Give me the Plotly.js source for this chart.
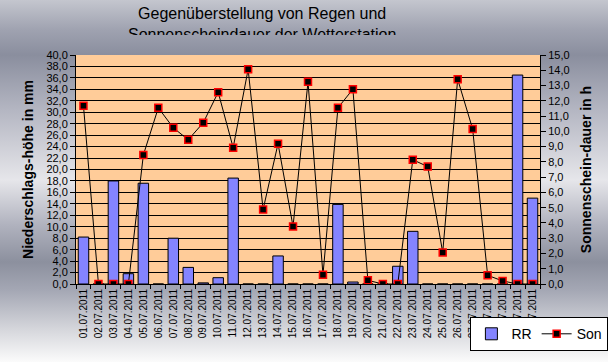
<!DOCTYPE html>
<html><head><meta charset="utf-8">
<script src="https://cdn.plot.ly/plotly-3.0.1.min.js"></script>
<style>
html,body{margin:0;padding:0;}
#chart{width:608px;height:362px;
background:linear-gradient(to bottom,#c4c6ce 0px,#9fa2b0 30px,#8a8e9e 55px,#b4b6c2 110px,#e6e6ea 180px,#b0b2be 225px,#8c909e 262px,#a4a7b4 290px,#d6d7dc 330px,#fbfbfb 362px);}
</style>
</head><body>
<div id="chart"></div>
<script>
const dates = ["01.07.2011","02.07.2011","03.07.2011","04.07.2011","05.07.2011","06.07.2011","07.07.2011","08.07.2011","09.07.2011","10.07.2011","11.07.2011","12.07.2011","13.07.2011","14.07.2011","15.07.2011","16.07.2011","17.07.2011","18.07.2011","19.07.2011","20.07.2011","21.07.2011","22.07.2011","23.07.2011","24.07.2011","25.07.2011","26.07.2011","27.07.2011","28.07.2011","29.07.2011","30.07.2011","31.07.2011"];
const rr = [8.2,0,18.0,1.8,17.6,0,8.0,2.9,0.2,1.1,18.5,0,0,4.9,0,0,0,13.9,0.35,0,0,3.1,9.2,0,0,0,0,0,0,36.5,15.0];
const son = [11.67,0,0,0,8.45,11.54,10.23,9.45,10.56,12.56,8.93,14.06,4.88,9.19,3.77,13.24,0.61,11.54,12.76,0.24,0,0,8.14,7.69,2.07,13.41,10.15,0.57,0.2,0,0];
const seriesNames = ["RR","Son"];
const titleText = "Gegenüberstellung von Regen und<br>Sonnenscheindauer der Wetterstation";
const yTitle = "Niederschlags-höhe in mm";
const y2Title = "Sonnenschein-dauer in h";

const traces = [
 {type:'bar', name:seriesNames[0], x:dates, y:rr, yaxis:'y',
  marker:{color:'#8484ff', line:{color:'#000000',width:1}}},
 {type:'scatter', mode:'lines+markers', name:seriesNames[1], x:dates, y:son, yaxis:'y2',
  line:{color:'#000000',width:1},
  marker:{symbol:'square', size:7, color:'#000000', line:{color:'#ff0000',width:1.5}}}
];
const layout = {
 width:608, height:362,
 paper_bgcolor:'rgba(0,0,0,0)', plot_bgcolor:'#ffcc99',
 margin:{l:76,r:68,t:55,b:78, autoexpand:false},
 separators:',.',
 font:{family:'Liberation Sans, Arial, sans-serif', size:12, color:'#000'},
 showlegend:true,
 bargap:0.3,
 legend:{orientation:'h', x:0.85, xanchor:'left', y:-0.145, yanchor:'top',
   bgcolor:'#ffffff', bordercolor:'#000000', borderwidth:1, font:{size:14},
   itemwidth:30, tracegroupgap:0},
 xaxis:{type:'category', range:[-0.5, dates.length-0.5], tickson:'boundaries', ticks:'outside', ticklen:4, tickcolor:'#000',
   tickangle:-90, tickfont:{size:10}, showline:true, linecolor:'#000', showgrid:false, automargin:false},
 yaxis:{range:[0,40], dtick:2, tickformat:'.1f', ticks:'outside', ticklen:5, tickcolor:'#000',
   showline:true, linecolor:'#000', showgrid:true, gridcolor:'#000', gridwidth:1, zeroline:false,
   tickfont:{size:11}, automargin:false,
   title:{text:yTitle, font:{size:14, weight:'bold'}, standoff:9}},
 yaxis2:{range:[0,15], dtick:1, tickformat:'.1f', overlaying:'y', side:'right', ticks:'outside', ticklen:5,
   tickcolor:'#000', showline:true, linecolor:'#000', showgrid:false, zeroline:false,
   tickfont:{size:11}, automargin:false,
   title:{text:y2Title, font:{size:14, weight:'bold'}, standoff:12}},
 annotations:[{text:titleText, xref:'paper', yref:'paper', x:0.4009, y:1.226, xanchor:'center', yanchor:'top',
   showarrow:false, font:{size:16}, height:30, valign:'top'}]
};
Plotly.newPlot('chart', traces, layout, {displayModeBar:false, staticPlot:true});
</script>
</body></html>
